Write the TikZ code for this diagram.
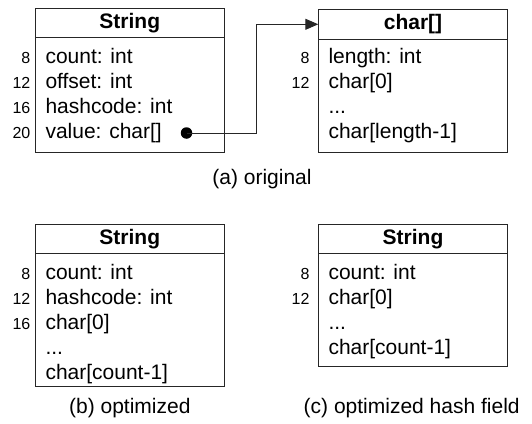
\documentclass[tikz,border=0pt]{standalone}
\usepackage{fontspec}
\setmainfont{Liberation Sans}
\usetikzlibrary{arrows.meta}
\begin{document}
\begin{tikzpicture}[x=1pt,y=-1pt,
  every node/.style={inner sep=0pt, outer sep=0pt},
  boxpart/.style={draw=black!85, line width=1pt, rectangle, anchor=north west},
  headtxt/.style={font=\fontsize{21}{25}\selectfont\bfseries},
  rowtxt/.style={anchor=base west, font=\fontsize{21}{25}\selectfont},
  numtxt/.style={anchor=base east, font=\fontsize{16}{19}\selectfont},
  captxt/.style={anchor=base, font=\fontsize{21}{25}\selectfont},
  conn/.style={draw=black!85, line width=1pt}
]
\useasboundingbox (0,0) rectangle (532,423);

% ---------- (a) String original ----------
\node[boxpart, minimum width=189pt, minimum height=29.4pt] (Ah) at (35.3,8.3) {};
\node[headtxt] (Aht) at (Ah.center) {String};
\node[boxpart, minimum width=189pt, minimum height=114.6pt] (Ab) at (35.3,37.7) {};
\node[rowtxt] (Ar1) at (45.5,63.5) {count: int};
\node[rowtxt] (Ar2) at (45.5,88) {offset: int};
\node[rowtxt] (Ar3) at (45.5,113) {hashcode: int};
\node[rowtxt] (Ar4) at (45.5,138) {value: char[]};
\node[numtxt] (An1) at (30.3,63.5) {8};
\node[numtxt] (An2) at (30.3,88) {12};
\node[numtxt] (An3) at (30.3,113) {16};
\node[numtxt] (An4) at (30.3,138) {20};
\node[circle, fill=black, minimum size=11.5pt] (dot) at (186.5,133) {};

% ---------- (a) char[] ----------
\node[boxpart, minimum width=189.4pt, minimum height=30pt] (Bh) at (318.3,9.3) {};
\node[headtxt] (Bht) at (Bh.center) {char[]};
\node[boxpart, minimum width=189.4pt, minimum height=113.4pt] (Bb) at (318.3,39.3) {};
\node[rowtxt] (Br1) at (328.5,63.5) {length: int};
\node[rowtxt] (Br2) at (328.5,88) {char[0]};
\node[rowtxt] (Br3) at (328.5,113.5) {...};
\node[rowtxt] (Br4) at (328.5,138) {char[length-1]};
\node[numtxt] (Bn1) at (309.5,63.5) {8};
\node[numtxt] (Bn2) at (309.5,88) {12};

\coordinate (vx) at (256.7,0);
\draw[conn, -{Triangle[length=13pt,width=11pt]}] (dot.center) -- (dot.center -| vx) |- (Bh.west);

\node[captxt] (capA) at (262,184.5) {(a) original};

% ---------- (b) optimized ----------
\node[boxpart, minimum width=189pt, minimum height=29.3pt] (Ch) at (35.3,224) {};
\node[headtxt] (Cht) at (Ch.center) {String};
\node[boxpart, minimum width=189pt, minimum height=133.4pt] (Cb) at (35.3,253.3) {};
\node[rowtxt] (Cr1) at (45.5,279) {count: int};
\node[rowtxt] (Cr2) at (45.5,304) {hashcode: int};
\node[rowtxt] (Cr3) at (45.5,329) {char[0]};
\node[rowtxt] (Cr4) at (45.5,354.5) {...};
\node[rowtxt] (Cr5) at (45.5,379.5) {char[count-1]};
\node[numtxt] (Cn1) at (30.3,279) {8};
\node[numtxt] (Cn2) at (30.3,304) {12};
\node[numtxt] (Cn3) at (30.3,329) {16};
\node[captxt] (capB) at (129.8,413) {(b) optimized};

% ---------- (c) optimized hash field ----------
\node[boxpart, minimum width=189.4pt, minimum height=29.3pt] (Dh) at (318.3,224) {};
\node[headtxt] (Dht) at (Dh.center) {String};
\node[boxpart, minimum width=189.4pt, minimum height=113.4pt] (Db) at (318.3,253.3) {};
\node[rowtxt] (Dr1) at (328.5,279) {count: int};
\node[rowtxt] (Dr2) at (328.5,304) {char[0]};
\node[rowtxt] (Dr3) at (328.5,329.5) {...};
\node[rowtxt] (Dr4) at (328.5,354) {char[count-1]};
\node[numtxt] (Dn1) at (309.5,279) {8};
\node[numtxt] (Dn2) at (309.5,304) {12};
\node[captxt] (capC) at (411.7,413) {(c) optimized hash field};
\end{tikzpicture}
\end{document}
